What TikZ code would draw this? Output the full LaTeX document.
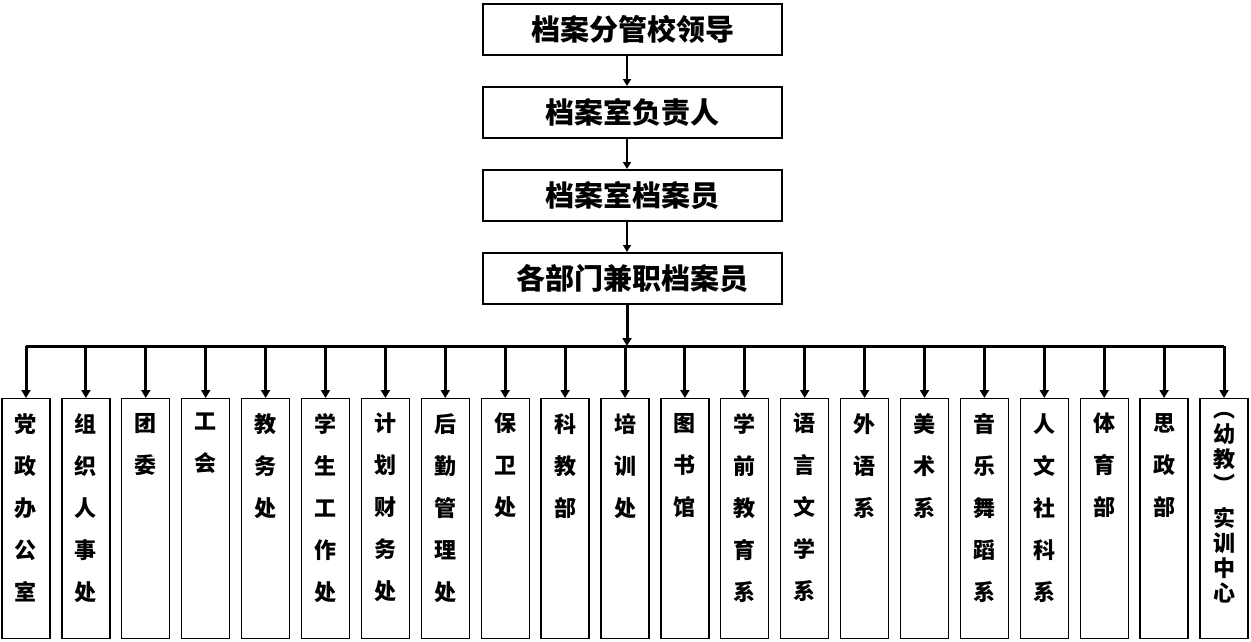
\documentclass[tikz,border=0pt]{standalone}
\usepackage{fontspec}
\setmainfont{Noto Sans CJK SC}
\usetikzlibrary{arrows.meta}
\tikzset{
  topbox/.style={draw=black,line width=2pt,minimum width=299pt,minimum height=51pt,inner sep=0pt,
    font=\fontsize{29}{31}\selectfont\bfseries},
  unitbox/.style={draw=black,line width=1.3pt,minimum width=48pt,minimum height=240pt,inner sep=0pt,anchor=north},
  unittext/.style={anchor=north,inner sep=0pt,align=center,font=\fontsize{22}{42}\selectfont\bfseries},
  toparrow/.style={line width=2pt,-{Triangle[width=8pt,length=7pt]}},
  busline/.style={line width=3pt},
  droparrow/.style={line width=3pt,-{Triangle[width=9pt,length=8pt]}}
}
\begin{document}
\begin{tikzpicture}[x=1pt,y=-1pt]
\useasboundingbox (0,0) rectangle (1251,641);
\fill[white] (0,0) rectangle (1251,641);
\node[topbox] (b1) at (632.5,29) {档案分管校领导};
\node[topbox] (b2) at (632.5,112.5) {档案室负责人};
\node[topbox] (b3) at (632.5,195.5) {档案室档案员};
\node[topbox] (b4) at (632.5,278.5) {各部门兼职档案员};
\coordinate (spine) at (627,0);
\coordinate (busL) at (26,346);
\coordinate (busR) at (1224,346);
\draw[toparrow] (b1.south -| spine) -- (b2.north -| spine);
\draw[toparrow] (b2.south -| spine) -- (b3.north -| spine);
\draw[toparrow] (b3.south -| spine) -- (b4.north -| spine);
\draw[busline] (busL) -- (busR);
\foreach \lab [count=\i] in {党\\政\\办\\公\\室,组\\织\\人\\事\\处,团\\委,工\\会,教\\务\\处,学\\生\\工\\作\\处,计\\划\\财\\务\\处,后\\勤\\管\\理\\处,保\\卫\\处,科\\教\\部,培\\训\\处,图\\书\\馆,学\\前\\教\\育\\系,语\\言\\文\\学\\系,外\\语\\系,美\\术\\系,音\\乐\\舞\\蹈\\系,人\\文\\社\\科\\系,体\\育\\部,思\\政\\部}{
  \node[unitbox] (d\i) at ({26+59.9*(\i-1)},398) {};
  \node[unittext] (t\i) at ({26+59.9*(\i-1)},413) {\lab};
  \draw[droparrow] (d\i.north |- busL) -- (d\i.north);
}
\node[unitbox] (d21) at (1224,398) {};
\node[unittext,font=\fontsize{22}{25}\selectfont\bfseries] (t21) at (1224,412) {︵\\幼\\教\\︶\\[9pt]实\\训\\中\\心};
\draw[droparrow] (d21.north |- busL) -- (d21.north);
\draw[droparrow] (b4.south -| spine) -- (busL -| spine);
\end{tikzpicture}
\end{document}
